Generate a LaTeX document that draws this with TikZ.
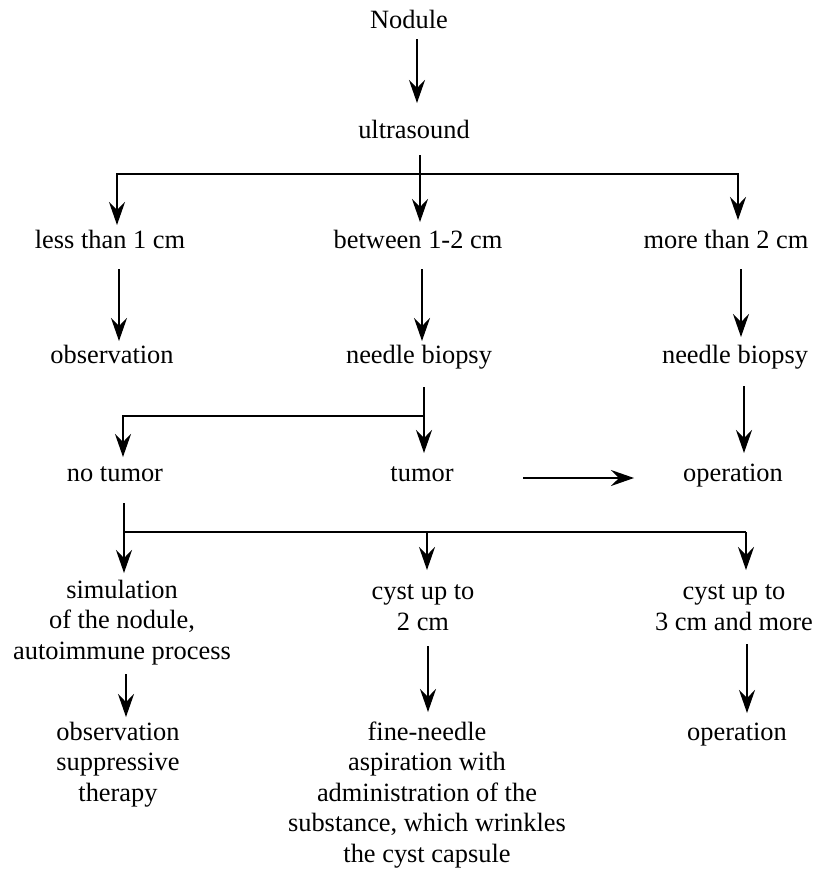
\documentclass[tikz,border=0pt]{standalone}
\usepackage{fontspec}
\setmainfont{Liberation Serif}
\usetikzlibrary{arrows.meta}
\begin{document}
\begin{tikzpicture}[x=1pt,y=1pt,
  lbl/.style={anchor=base,inner sep=0pt,align=center,font=\fontsize{26.4}{30.5}\selectfont},
  ln/.style={line width=1.3pt},
  arr/.style={ln,-{Stealth[length=23pt,width=16pt,inset=8pt]}}]
\useasboundingbox (0,0) rectangle (816,-871);
% nodes (base = baseline of the last line)
\node[lbl] (nod) at (409,-28) {Nodule};
\node[lbl] (ult) at (414,-138) {ultrasound};
\node[lbl] (l1) at (110,-248) {less than 1 cm};
\node[lbl] (m1) at (418,-248) {between 1-2 cm};
\node[lbl] (r1) at (726,-248) {more than 2 cm};
\node[lbl] (l2) at (112,-363) {observation};
\node[lbl] (m2) at (419,-363) {needle biopsy};
\node[lbl] (r2) at (735,-363) {needle biopsy};
\node[lbl] (l3) at (115,-481) {no tumor};
\node[lbl] (m3) at (422,-481) {tumor};
\node[lbl] (r3) at (733,-481) {operation};
\node[lbl] (l4) at (122,-659) {simulation\\of the nodule,\\autoimmune process};
\node[lbl] (m4) at (423,-630) {cyst up to\\2 cm};
\node[lbl] (r4) at (734,-630) {cyst up to\\3 cm and more};
\node[lbl] (l5) at (118,-801) {observation\\suppressive\\therapy};
\node[lbl] (m5) at (427,-862) {fine-needle\\aspiration with\\administration of the\\substance, which wrinkles\\the cyst capsule};
\node[lbl] (r5) at (737,-740) {operation};
% junction coordinates
\coordinate (j1) at (420,-174);
\coordinate (j2) at (424,-416);
\coordinate (j3) at (124,-532);
% connectors
\draw[arr] ([xshift=8pt,yshift=-11pt]nod.base) -- ([xshift=3pt,yshift=35pt]ult.base);
\draw[arr] ([xshift=6pt,yshift=-17pt]ult.base) -- ([xshift=2pt,yshift=26pt]m1.base);
\draw[arr] (j1) -| ([xshift=7pt,yshift=23pt]l1.base);
\draw[arr] (j1) -| ([xshift=12pt,yshift=28pt]r1.base);
\draw[arr] ([xshift=9pt,yshift=-21pt]l1.base) -- ([xshift=7pt,yshift=22pt]l2.base);
\draw[arr] ([xshift=4pt,yshift=-21pt]m1.base) -- ([xshift=3pt,yshift=22pt]m2.base);
\draw[arr] ([xshift=15pt,yshift=-21pt]r1.base) -- ([xshift=6pt,yshift=26pt]r2.base);
\draw[arr] ([xshift=5pt,yshift=-24pt]m2.base) -- ([xshift=2pt,yshift=28pt]m3.base);
\draw[arr] (j2) -| ([xshift=8pt,yshift=24pt]l3.base);
\draw[arr] ([xshift=9pt,yshift=-23pt]r2.base) -- ([xshift=11pt,yshift=28pt]r3.base);
\draw[arr] ([xshift=101pt,yshift=3pt]m3.base) -- ([xshift=-99pt,yshift=3pt]r3.base);
\draw[arr] ([xshift=9pt,yshift=-22pt]l3.base) -- ([xshift=2pt,yshift=86pt]l4.base);
\draw[ln] (j3) -- ([xshift=12pt]j3 -| r4);
\draw[arr] ([xshift=4pt]j3 -| m4) -- ([xshift=4pt,yshift=60pt]m4.base);
\draw[arr] ([xshift=12pt]j3 -| r4) -- ([xshift=12pt,yshift=60pt]r4.base);
\draw[arr] ([xshift=4pt,yshift=-15pt]l4.base) -- ([xshift=8pt,yshift=84pt]l5.base);
\draw[arr] ([xshift=5pt,yshift=-16pt]m4.base) -- ([xshift=1pt,yshift=150pt]m5.base);
\draw[arr] ([xshift=13pt,yshift=-14pt]r4.base) -- ([xshift=10pt,yshift=27pt]r5.base);
\end{tikzpicture}
\end{document}
